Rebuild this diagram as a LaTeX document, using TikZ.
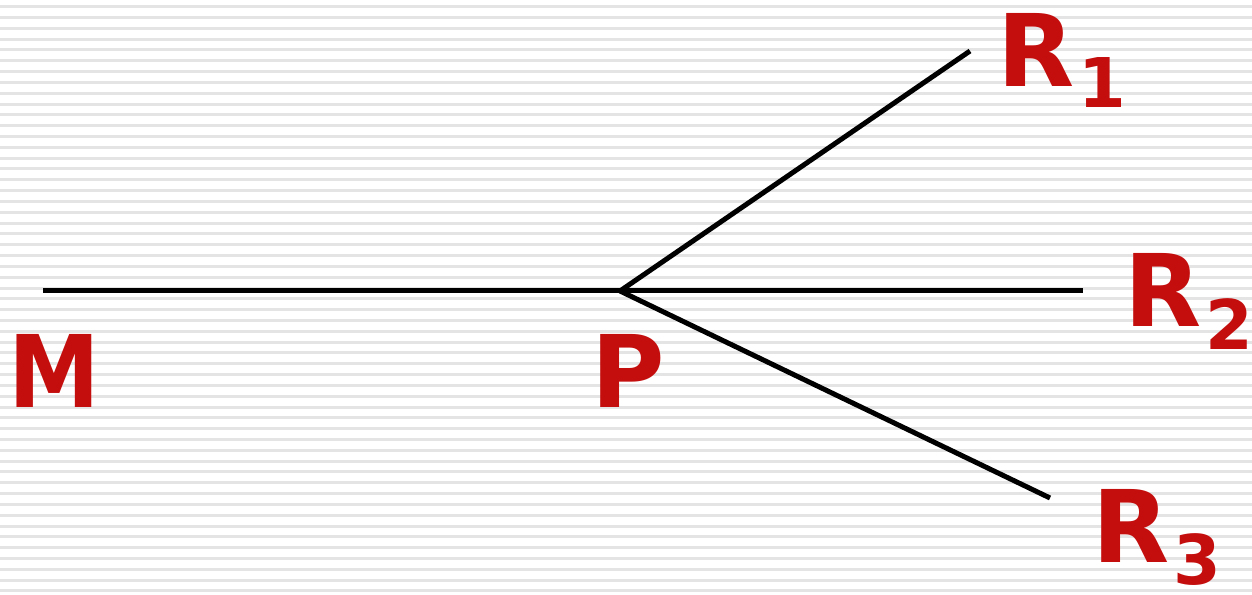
\documentclass[tikz,border=0pt]{standalone}
\usepackage{fontspec}
\setmainfont{DejaVu Sans}
\definecolor{stripe}{RGB}{228,228,228}
\definecolor{lbl}{RGB}{196,14,14}
\newcommand{\bigf}{\fontsize{28.5}{30}\selectfont\bfseries}
\newcommand{\subf}{\fontsize{19.5}{21}\selectfont\bfseries}
\newcommand{\sbs}[2]{R\kern 0.04cm\lower #1\hbox{\subf #2}}
\begin{document}
\begin{tikzpicture}[x=0.01cm,y=-0.01cm,
  wire/.style={line width=0.05cm,black},
  lab/.style={text=lbl,font=\bigf,inner sep=0pt,anchor=base west}]
\useasboundingbox (0,0) rectangle (1252,595);
\fill[white] (0,0) rectangle (1252,595);
\foreach \i in {0,...,54} {
  \fill[stripe] (0,{5.2+10.82*\i}) rectangle (1252,{8.2+10.82*\i});
}
\coordinate (M) at (43,291);
\coordinate (P) at (620,291);
\coordinate (E1) at (970,51);
\coordinate (E2) at (1083,291);
\coordinate (E3) at (1050,498);
\draw[wire] (M) -- (P) -- (E2);
\draw[wire] (P) -- (E1);
\draw[wire] (P) -- (E3);
\node[lab] (tM) at (8,408) {\scalebox{0.92}[1]{M}};
\node[lab] (tP) at (591,408) {P};
\node[lab] (t1) at (997,87) {\sbs{0.21cm}{1}};
\node[lab] (t2) at (1124,327) {\sbs{0.22cm}{2}};
\node[lab] (t3) at (1092,563) {\sbs{0.21cm}{3}};
\end{tikzpicture}
\end{document}
